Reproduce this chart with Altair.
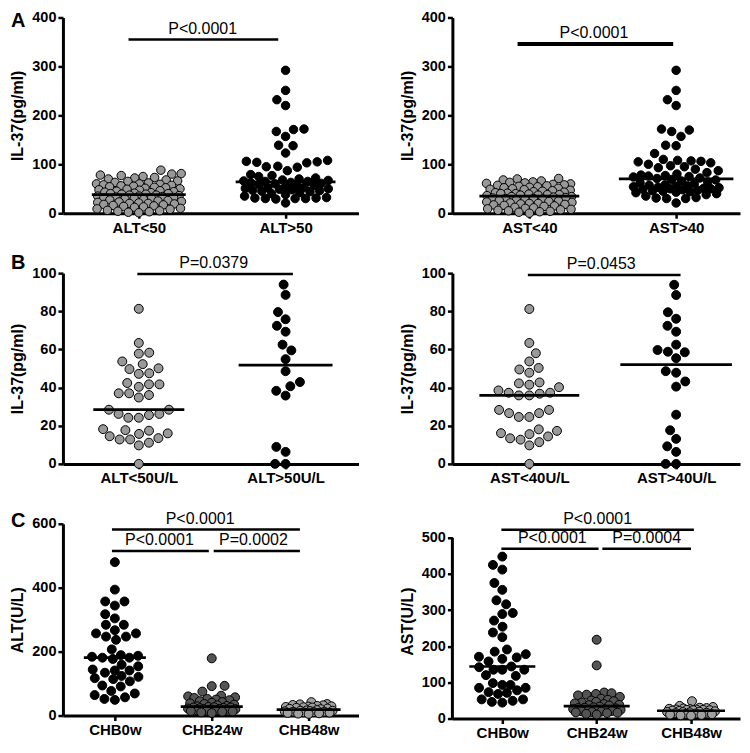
import math
import statistics
import pandas as pd
import altair as alt

FONT = "Liberation Sans"

# ---------------- data ----------------
# Panel A left: IL-37 (pg/ml) by ALT
A1_labels = ["ALT<50", "ALT>50"]
A1_low = [88, 81, 80, 78, 77, 75, 73, 72, 70, 68, 66, 65, 63, 62, 60, 60, 59, 58, 57, 56,
          55, 54, 53, 52, 51, 50, 49, 48, 47, 46, 45, 44, 43, 42, 41, 40, 40, 39, 39,
          37, 37, 36, 35, 35, 34, 33, 32, 31, 30, 30, 29, 28, 27, 26, 25, 24, 23, 22, 21,
          20, 20, 19, 18, 17, 16, 15, 14, 13, 12, 10, 9, 8, 6, 5, 4, 3, 2, 1]
A1_high = [292, 251, 232, 220, 172, 171, 167, 157, 139, 138, 123, 108, 106, 105, 104, 103,
           96, 95, 94, 87, 79, 77, 75, 72, 70, 68, 67, 66, 65, 65,
           63, 62, 61, 60, 58, 57, 55, 54, 53, 52, 51, 50, 49, 48, 47, 46, 45, 44, 42, 40,
           38, 35, 32, 31, 31, 30, 30, 30, 29, 21]
A1_pvals = ["P<0.0001"]

# Panel A right: IL-37 (pg/ml) by AST
A2_labels = ["AST<40", "AST>40"]
A2_low = [71, 70, 68, 66, 64, 63, 62, 61, 60, 59, 58, 57, 56, 55, 54, 53, 52, 51, 50, 49,
          48, 47, 46, 45, 44, 43, 42, 41, 40, 40, 39, 38, 38, 37, 37, 36,
          34, 34, 33, 32, 31, 30, 30, 29, 28, 27, 26, 25, 24, 23, 22, 21, 20, 20, 19, 18,
          17, 16, 15, 14, 12, 11, 10, 9, 8, 7, 6, 5, 4, 3, 2, 0]
A2_high = [292, 251, 232, 220, 172, 170, 167, 157, 139, 138, 122, 110, 108, 107, 106, 105,
           103, 100, 97, 95, 93, 90, 87, 83, 80, 78, 77, 76, 75, 74, 72, 71,
           69, 68, 66, 64, 62, 60, 58, 57, 56, 55, 54, 53, 52, 51, 50, 50, 49, 48, 47, 46,
           45, 44, 43, 42, 40, 38, 35, 32, 31, 30, 30, 21]
A2_pvals = ["P<0.0001"]

# Panel B left
B1_labels = ["ALT<50U/L", "ALT>50U/L"]
B1_low = [81.3, 63.4, 58.3, 57.8, 53.7, 52.3, 50.1, 49.7, 47.5, 47.2, 42.4, 41.7, 41.7, 40.4,
          37.0, 37.0, 36.1, 34.8, 28.4, 28.4, 26.2, 24.2, 24.2, 25.6, 26.2, 18.2, 17.4, 17.7,
          15.7, 16.0, 14.5, 12.8, 13.5, 12.8, 11.1, 9.7, 0.0]
B1_high = [94.0, 88.6, 79.6, 75.8, 72.4, 69.3, 62.5, 59.5, 54.9, 48.6, 42.9, 40.7, 38.3,
           35.8, 8.9, 6.3, 0.0, 0.0]
B1_pvals = ["P=0.0379"]

# Panel B right
B2_labels = ["AST<40U/L", "AST>40U/L"]
B2_low = [81.2, 63.4, 58.0, 53.7, 49.5, 50.3, 47.8, 42.2, 42.7, 41.5, 40.2, 37.3, 36.8, 35.9,
          35.9, 37.3, 38.5, 28.3, 28.3, 26.6, 24.6, 24.6, 26.6, 18.1, 17.3, 15.6, 16.1, 14.4,
          13.4, 11.4, 12.7, 9.7, 0.0]
B2_high = [93.9, 88.5, 79.5, 76.1, 72.4, 69.3, 62.5, 58.5, 58.8, 59.7, 55.4, 48.6, 47.8,
           43.2, 40.5, 25.8, 17.6, 13.1, 9.2, 6.3, 0.0, 0.0]
B2_pvals = ["P=0.0453"]

# Panel C left: ALT (U/L)
C1_labels = ["CHB0w", "CHB24w", "CHB48w"]
C1_w0 = [480, 394, 357, 357, 344, 317, 304, 284, 284, 267, 257, 257, 247, 247, 237, 207,
         184, 187, 181, 181, 177, 189, 154, 141, 159, 134, 141, 144, 121, 124, 114, 107,
         117, 91, 94, 69, 77, 64, 57, 49, 52]
C1_w24 = [179, 93, 92, 75, 62, 60, 57, 55, 52, 50, 48, 45, 42, 40, 38, 36, 34, 32, 30, 29,
          27, 26, 25, 25, 24, 23, 22, 21, 20, 20, 19, 18, 17, 16, 15, 14, 13, 12, 10, 8]
C1_w48 = [42, 36, 35, 33, 32, 30, 29, 28, 27, 26, 25, 24, 22, 21, 20,
          17, 16, 15, 15, 14, 13, 12, 12, 11, 10, 9, 8, 7, 6, 5]
C1_pvals = ["P<0.0001", "P<0.0001", "P=0.0002"]

# Panel C right: AST (U/L)
C2_labels = ["CHB0w", "CHB24w", "CHB48w"]
C2_w0 = [448, 425, 412, 375, 356, 327, 316, 292, 289, 271, 254, 238, 225, 191, 185, 178,
         171, 169, 165, 158, 144, 142, 135, 135, 135, 120, 118, 98, 93, 93, 85, 85, 78, 73,
         71, 68, 53, 53, 49, 46, 44]
C2_w24 = [218, 147, 72, 70, 68, 66, 64, 60, 55, 52, 50, 48, 46, 44, 42, 40, 38, 37, 36,
          33, 31, 30, 29, 28, 26, 25, 24, 23, 22, 21, 20, 19, 18, 17, 16, 15, 13, 11]
C2_w48 = [48, 35, 32, 30, 29, 28, 27, 26, 25, 25, 24, 24, 23, 23, 22,
          21, 20, 19, 18, 18, 17, 16, 15, 14, 13, 12, 11, 10, 9, 8]
C2_pvals = ["P<0.0001", "P<0.0001", "P=0.0004"]

# comparison bars: start group pos, end group pos, height (data units), label pos
A1_bar = dict(x1=[0.93], x2=[1.95], y=[355], tx=[1.435])
A2_bar = dict(x1=[0.92], x2=[1.98], y=[346], tx=[1.44])
B1_bar = dict(x1=[0.99], x2=[2.05], y=[99.5], tx=[1.51])
B2_bar = dict(x1=[0.99], x2=[2.03], y=[99], tx=[1.49])
C1_bar = dict(x1=[0.97, 0.97, 2.02], x2=[2.91, 1.97, 2.91], y=[582, 515, 515], tx=[1.88, 1.46, 2.43])
C2_bar = dict(x1=[0.99, 0.99, 2.06], x2=[3.03, 2.02, 3.0], y=[522, 470, 470], tx=[2.01, 1.53, 2.53])

GRAY = "#999999"
BLACK = "#000000"
DARK = "#545454"
LIGHT = "#a0a0a0"

DOT = 10.5  # dot spacing in px used for the swarm layout


def swarm(vals, pxy, d, maxhalf):
    n = len(vals)
    ys = [v * pxy for v in vals]
    order = sorted(range(n), key=lambda i: (ys[i], i))
    placed = []
    xs = [0.0] * n
    side = 1
    for i in order:
        y = ys[i]
        r = d
        found = None
        while True:
            near = [(px, py) for (px, py) in placed if abs(py - y) < r]
            cands = [0.0]
            for px, py in near:
                dx = math.sqrt(max(r * r - (py - y) ** 2, 0.0))
                cands.append(px - dx)
                cands.append(px + dx)
            cands.sort(key=lambda c: (round(abs(c), 4), -side * c))
            for c in cands:
                if abs(c) > maxhalf:
                    continue
                if all((c - px) ** 2 + (y - py) ** 2 >= r * r - 1e-6 for px, py in near):
                    found = c
                    break
            if found is not None or r < 1:
                break
            r *= 0.92
        if found is None:
            found = 0.0
        xs[i] = found
        placed.append((found, y))
        side = -side
    return xs


def panel(groups, labels, fills, pvals, bar, w, h, ydom, yticks, ytitle, xdom, maxhalf, hw,
          letter=None, letter_y=0, bar_width=2.5, manual_domain=None, dot_size=72):
    pxy = h / (ydom[1] - ydom[0])
    pxx = w / (xdom[1] - xdom[0])
    pts = []
    meds = []
    for gi, vals in enumerate(groups):
        g = gi + 1
        offs = swarm(vals, pxy, DOT, maxhalf)
        for v, o in zip(vals, offs):
            pts.append({"x": g + o / pxx, "y": v, "fill": fills[gi]})
        m = statistics.median(vals)
        meds.append({"x": g - hw[gi], "x2": g + hw[gi], "y": m})
    pts = pd.DataFrame(pts)
    meds = pd.DataFrame(meds)
    bars = pd.DataFrame({"x": bar["x1"], "x2": bar["x2"], "y": bar["y"]})
    texts = pd.DataFrame({"x": bar["tx"], "y": bar["y"], "t": pvals})

    label_js = "[" + ",".join("'" + s + "'" for s in labels) + "]"
    xaxis = alt.Axis(values=list(range(1, len(labels) + 1)), labelExpr=label_js + "[datum.value - 1]",
                     title=None, grid=False)
    yaxis = alt.Axis(values=yticks, title=ytitle, grid=False, titleX=-37,
                     domain=(manual_domain is None))
    xs = alt.Scale(domain=xdom, nice=False, zero=False)
    ys = alt.Scale(domain=ydom, nice=False, zero=False)

    def X(f):
        return alt.X(f + ":Q", scale=xs, axis=xaxis)

    def Y(f):
        return alt.Y(f + ":Q", scale=ys, axis=yaxis)

    layers = []
    if manual_domain is not None:
        dom = pd.DataFrame({"y": [manual_domain[0]], "y2": [manual_domain[1]]})
        layers.append(alt.Chart(dom).mark_rule(color="black", strokeWidth=3).encode(
            x=alt.value(0), y=Y("y"), y2="y2:Q"))
    layers.append(alt.Chart(pts).mark_circle(size=dot_size, opacity=1, stroke="black", strokeWidth=1).encode(
        x=X("x"), y=Y("y"),
        color=alt.Color("fill:N", scale=None)))
    layers.append(alt.Chart(meds).mark_rule(color="black", strokeWidth=2.7).encode(
        x=X("x"), x2="x2:Q", y=Y("y")))
    layers.append(alt.Chart(bars).mark_rule(color="black", strokeWidth=bar_width).encode(
        x=X("x"), x2="x2:Q", y=Y("y")))
    layers.append(alt.Chart(texts).mark_text(font=FONT, fontSize=16, baseline="bottom",
                                             align="center", dy=-3, color="black").encode(
        x=X("x"), y=Y("y"), text="t:N"))
    if letter:
        lt = pd.DataFrame({"t": [letter]})
        layers.append(alt.Chart(lt).mark_text(font=FONT, fontSize=20, fontWeight="bold",
                                              align="left", baseline="top", color="black").encode(
            x=alt.value(-52), y=alt.value(letter_y), text="t:N"))
    return alt.layer(*layers).properties(width=w, height=h)


WL, WR = 296, 288
HA, HB, HCL, HCR = 196, 191, 192, 195

AL = panel([A1_low, A1_high], A1_labels, [GRAY, BLACK], A1_pvals, A1_bar, WL, HA, [0, 400],
           [0, 100, 200, 300, 400], "IL-37(pg/ml)", [0.483, 2.497], 43, [0.32, 0.34],
           letter="A", letter_y=-6)
AR = panel([A2_low, A2_high], A2_labels, [GRAY, BLACK], A2_pvals, A2_bar, WR, HA, [0, 400],
           [0, 100, 200, 300, 400], "IL-37(pg/ml)", [0.476, 2.435], 43, [0.34, 0.39],
           bar_width=4)
BL = panel([B1_low, B1_high], B1_labels, [GRAY, BLACK], B1_pvals, B1_bar, WL, HB, [0, 100],
           [0, 20, 40, 60, 80, 100], "IL-37(pg/ml)", [0.483, 2.497], 36, [0.31, 0.32],
           letter="B", letter_y=-20, dot_size=80)
BR = panel([B2_low, B2_high], B2_labels, [GRAY, BLACK], B2_pvals, B2_bar, WR, HB, [0, 100],
           [0, 20, 40, 60, 80, 100], "IL-37(pg/ml)", [0.476, 2.435], 36, [0.34, 0.38],
           dot_size=80)
CL = panel([C1_w0, C1_w24, C1_w48], C1_labels, [BLACK, DARK, LIGHT], C1_pvals, C1_bar, WL, HCL,
           [0, 600], [0, 200, 400, 600], "ALT(U/L)", [0.464, 3.515], 24, [0.32, 0.32, 0.33],
           letter="C", letter_y=-13, dot_size=80)
CR = panel([C2_w0, C2_w24, C2_w48], C2_labels, [BLACK, DARK, LIGHT], C2_pvals, C2_bar, WR, HCR,
           [0, 538.7], [0, 100, 200, 300, 400, 500], "AST(U/L)", [0.471, 3.519], 24,
           [0.35, 0.35, 0.36], manual_domain=[0, 500], dot_size=80)

chart = alt.concat(AL, AR, BL, BR, CL, CR, columns=2, spacing={"row": 60, "column": 94},
                   bounds="flush", align="each").properties(
    padding={"left": 2, "top": 1, "right": 2, "bottom": 2}
).configure_view(stroke=None).configure_axis(
    domainColor="black", domainWidth=3, tickColor="black", tickWidth=2.5, tickSize=5,
    labelFont=FONT, labelFontWeight="bold", labelColor="black", labelPadding=2,
    titleFont=FONT, titleFontWeight="bold", titleColor="black", titleFontSize=16
).configure_axisX(labelFontSize=15).configure_axisY(labelFontSize=14.5)

chart.save("out.html", embed_options={"renderer": "svg", "actions": False})
